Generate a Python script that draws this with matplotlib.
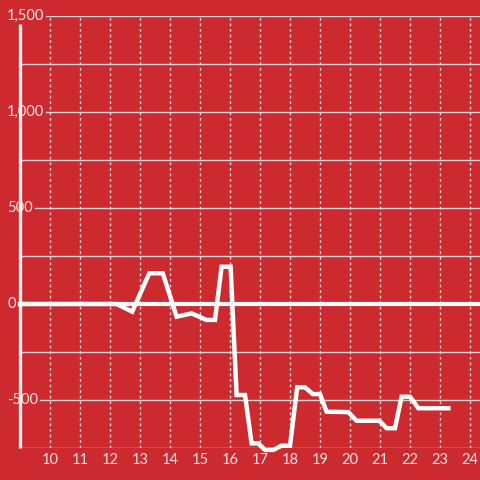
import matplotlib
matplotlib.use("Agg")
import matplotlib.pyplot as plt
from matplotlib.transforms import blended_transform_factory

# ---- data ----
hours = [9.0, 12.22, 12.74, 13.31, 13.76, 14.22, 14.72, 15.22, 15.5, 15.72, 16.02,
         16.22, 16.5, 16.72, 16.94, 17.17, 17.44, 17.72, 18.0, 18.24, 18.5, 18.76,
         19.0, 19.22, 19.94, 20.22, 20.98, 21.22, 21.5, 21.72, 22.0, 22.28, 23.28]
values = [0, 0, -40, 160, 160, -66, -49, -83, -83, 194, 194,
          -474, -474, -726, -726, -760, -760, -738, -738, -434, -434, -469,
          -469, -561, -563, -608, -608, -647, -647, -483, -483, -543, -543]
x_ticks = list(range(10, 25))
y_grid = [1500, 1250, 1000, 750, 500, 250, 0, -250, -500, -750]
y_labels = {1500: "1,500", 1000: "1,000", 500: "500", 0: "0", -500: "-500"}

BG = "#cc2a2f"
TXT = "#f3e4e4"
GRID = "#d9d4d4"
plt.rcParams['font.family'] = ['Lato', 'DejaVu Sans']

fig = plt.figure(figsize=(4.8, 4.8), dpi=100, facecolor=BG)
W = 480
ax = fig.add_axes([20 / W, 32 / W, 460 / W, 432 / W])
ax.set_facecolor(BG)
for s in ax.spines.values():
    s.set_visible(False)
ax.set_xlim(9.0, 9.0 + 460 / 30)
ax.set_ylim(-750, 1500)
ax.set_xticks([])
ax.set_yticks([])

# vertical dotted gridlines
for xt in x_ticks:
    ax.axvline(xt, color=GRID, lw=1, ls=(0, (2, 2)), zorder=1)
    ax.text(xt, -0.028, str(xt), transform=blended_transform_factory(ax.transData, ax.transAxes),
            ha='center', va='center', fontsize=10.5, color=TXT, clip_on=False)

# y labels + horizontal grid
tr = blended_transform_factory(ax.transAxes, ax.transData)
fig.canvas.draw()
renderer = fig.canvas.get_renderer()
for yv in y_grid:
    start = 0.0
    if yv in y_labels:
        t = ax.text(-13 / 460, yv, y_labels[yv], transform=tr, ha='left', va='center',
                    fontsize=10.5, color=TXT, clip_on=False, zorder=6)
        bb = t.get_window_extent(renderer)
        ax_bb = ax.get_window_extent(renderer)
        start = max(0.0, (bb.x1 + 2 - ax_bb.x0) / ax_bb.width)
    if yv == 0:
        continue
    ax.axhline(yv, xmin=start, xmax=1, color=GRID, lw=1, zorder=1)

# zero line
ax.axhline(0, color="white", lw=3, zorder=3)
# y axis line
ax.plot([9.0, 9.0], [1460, -750], color="#f2f2f2", lw=2.4, zorder=4, clip_on=False,
        solid_capstyle='butt')

# data line
ax.plot(hours, values, color="white", lw=3.2, zorder=5, clip_on=False,
        solid_joinstyle='miter')

fig.savefig("out.png", dpi=100, facecolor=BG)
